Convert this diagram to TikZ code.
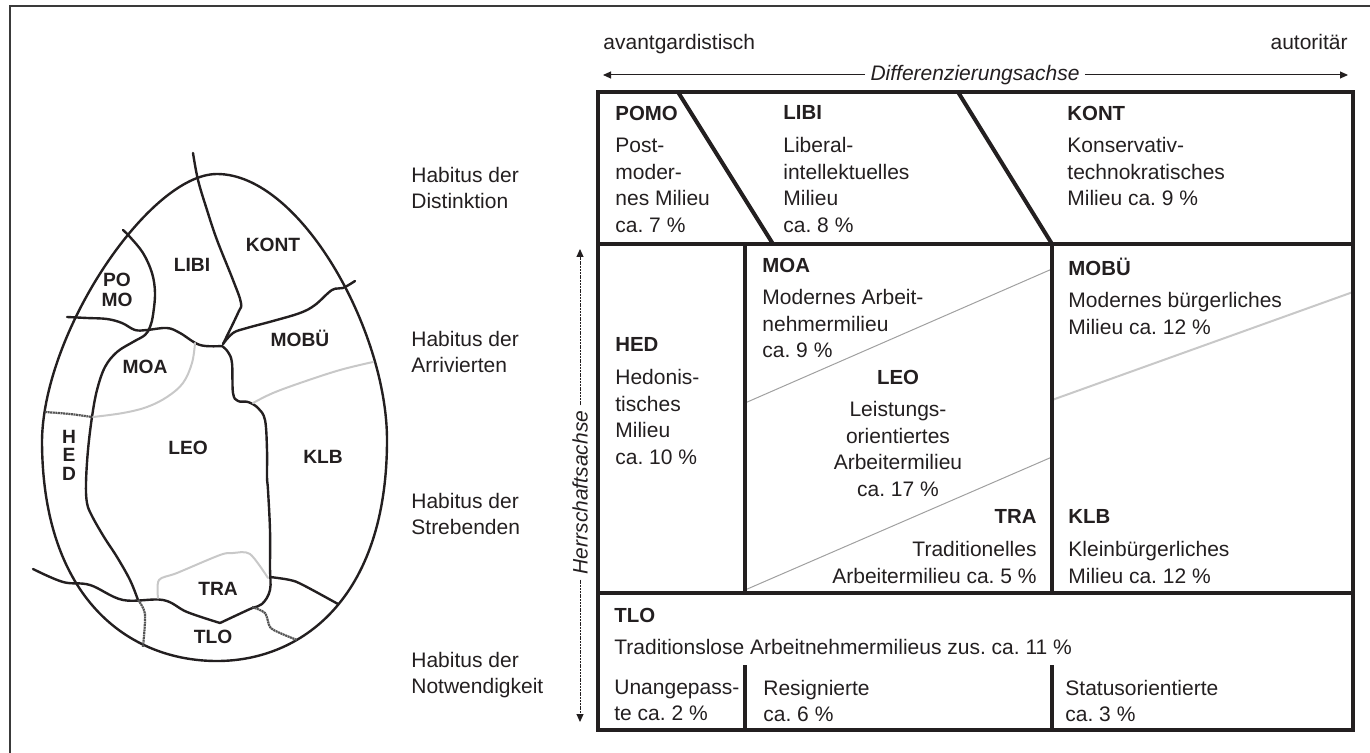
\documentclass[tikz,border=0pt]{standalone}
\usepackage{fontspec}
\setmainfont{Liberation Sans}
\usetikzlibrary{arrows.meta}
\definecolor{ink}{HTML}{231F20}
\definecolor{softgrey}{HTML}{C8C8C8}
\definecolor{hatchgrey}{HTML}{555555}
\definecolor{framegrey}{HTML}{3A3A3A}
\newcommand{\milieuhead}[1]{{\fontsize{10.2}{13.3}\selectfont\bfseries #1}}

\begin{document}
\frenchspacing
\begin{tikzpicture}[
    x=0.5pt, y=-0.5pt,
    every node/.style={text=ink, inner sep=0pt},
    cell/.style={
        font=\fontsize{10.5}{13.3}\selectfont,
        align=left,
        anchor=north west,
    },
    egglabel/.style={
        font=\fontsize{9.6}{10}\selectfont\bfseries,
        align=center,
    },
    axislabel/.style={
        font=\fontsize{10.5}{13.3}\selectfont\itshape,
        inner sep=2.5pt,
    },
    axisline/.style={line width=0.5pt, draw=ink},
    tableline/.style={line width=2pt, draw=ink},
    eggline/.style={line width=1.2pt, draw=ink, line cap=round, line join=round},
    softline/.style={line width=1pt, draw=softgrey, line cap=round},
    hatchline/.style={line width=1.1pt, draw=hatchgrey, dash pattern=on 1pt off 0.3pt},
]
\useasboundingbox (0,0) rectangle (1370,753);

% frame
\draw[line width=0.8pt, draw=framegrey] (10,753) -- (10,6) -- (1370,6);

% egg
\draw[eggline] (217,174) .. controls (300,174) and (387,330) .. (387,440)
    .. controls (387,600) and (300,661) .. (217,661)
    .. controls (130,661) and (42,600) .. (42,440)
    .. controls (44,330) and (150,174) .. (217,174) -- cycle;

\draw[eggline] plot[smooth, tension=0.6] coordinates {(193,153) (198,180) (207,210) (217,240) (233,280) (241,303) (238,313) (223,344)};
\draw[eggline] plot[smooth, tension=0.6] coordinates {(123,230) (130,237) (143,253) (152,273) (155,293) (153,315) (150,327) (145,335) (133,342) (117,352) (105,367) (97,390) (92,417) (88,450) (86,483) (87,503) (92,516) (104,537) (117,557) (130,580) (138,600)};
\draw[eggline] plot[smooth, tension=0.6] coordinates {(67,317) (87,318) (107,319) (122,323) (135,330) (147,330) (167,328) (180,333) (200,345) (222,346)};
\draw[eggline] plot[smooth, tension=0.6] coordinates {(223,344) (233,333) (247,328) (273,321) (300,313) (315,305) (332,290) (343,288) (355,281)};
\draw[eggline] plot[smooth, tension=0.6] coordinates {(222,346) (228,352) (232,363) (233,393) (238,401) (248,402) (258,408) (265,420) (267,450) (267,477) (268,490) (270,530) (270,567) (270,590) (262,604) (250,609) (220,623)};
\draw[eggline] plot[smooth, tension=0.6] coordinates {(220,623) (187,612) (163,600) (123,600) (90,585) (63,582) (33,569)};
\draw[eggline] plot[smooth, tension=0.6] coordinates {(270,577) (290,580) (303,585) (338,604)};

\draw[softline] plot[smooth, tension=0.6] coordinates {(195,343) (192,363) (183,383) (167,397) (147,407) (123,413) (93,417)};
\draw[softline] plot[smooth, tension=0.6] coordinates {(253,403) (273,393) (303,382) (340,370) (373,362)};
\draw[softline] plot[smooth, tension=0.5] coordinates {(158,598) (159,580) (177,573) (220,555) (233,553) (250,554) (268,578)};

\draw[hatchline] plot[smooth] coordinates {(45,412) (70,414) (92,417)};
\draw[hatchline] plot[smooth] coordinates {(138,600) (145,614) (143,647)};
\draw[hatchline] plot[smooth] coordinates {(252,607) (265,613) (270,627) (280,633) (297,640)};

\node[egglabel] (ePOMO) at (117,290) {PO\\MO};
\node[egglabel] (eLIBI) at (192,265) {LIBI};
\node[egglabel] (eKONT) at (273,245) {KONT};
\node[egglabel] (eMOA) at (145,367) {MOA};
\node[egglabel] (eMOBU) at (300,338) {MOBÜ};
\node[egglabel, font=\fontsize{9.6}{9.3}\selectfont\bfseries] (eHED) at (69,455) {H\\E\\D};
\node[egglabel] (eLEO) at (188,448) {LEO};
\node[egglabel] (eKLB) at (323,457) {KLB};
\node[egglabel] (eTRA) at (218,589) {TRA};
\node[egglabel] (eTLO) at (213,637) {TLO};

% habitus
\node[cell] (hDist) at (411,166.5) {Habitus der\\Distinktion};
\node[cell] (hArri) at (411,330.5) {Habitus der\\Arrivierten};
\node[cell] (hStre) at (411,492.5) {Habitus der\\Strebenden};
\node[cell] (hNotw) at (411,651.5) {Habitus der\\Notwendigkeit};

% axes
\node[cell, anchor=base west] (avant) at (603,50) {avantgardistisch};
\node[cell, anchor=base east] (autor) at (1348,50) {autoritär};
\node[axislabel] (diff) at (975,75) {Differenzierungsachse};
\coordinate (diffL) at (603,75);
\coordinate (diffR) at (1348,75);
\draw[axisline, -{Triangle[length=4pt, width=3.5pt]}] (diff) -- (diffL);
\draw[axisline, -{Triangle[length=4pt, width=3.5pt]}] (diff) -- (diffR);

\node[axislabel, rotate=90] (herr) at (580,492.5) {Herrschaftsachse};
\coordinate (herrT) at (580,249);
\coordinate (herrB) at (580,722);
\draw[axisline, dash pattern=on 1pt off 0.4pt, -{Triangle[length=4pt, width=3.5pt]}] (herr) -- (herrT);
\draw[axisline, dash pattern=on 1pt off 0.4pt, -{Triangle[length=4pt, width=3.5pt]}] (herr) -- (herrB);

% table
\draw[line width=0.5pt, draw=softgrey!80!black] (745,403) -- (1052,269);
\draw[line width=0.5pt, draw=softgrey!80!black] (745,590) -- (1052,457);
\draw[line width=1pt, draw=softgrey] (1052,400) -- (1353,292);

\draw[tableline] (598,92) rectangle (1353,730);
\draw[tableline] (598,244) -- (1353,244);
\draw[tableline] (598,593) -- (1353,593);
\draw[tableline] (745,244) -- (745,593);
\draw[tableline] (1052,244) -- (1052,593);
\draw[tableline] (678,92) -- (773,244);
\draw[tableline] (958,92) -- (1052,244);
\draw[tableline] (745,665) -- (745,730);
\draw[tableline] (1052,665) -- (1052,730);

\node[cell] (POMO) at (615,105.5) {\milieuhead{POMO}\\[3pt]Post-\\moder-\\nes Milieu\\ca. 7 \%};
\node[cell] (LIBI) at (783,105.5) {\milieuhead{LIBI}\\[3pt]Liberal-\\intellektuelles\\Milieu\\ca. 8 \%};
\node[cell] (KONT) at (1067,105.5) {\milieuhead{KONT}\\[3pt]Konservativ-\\technokratisches\\Milieu ca. 9 \%};
\node[cell] (MOA) at (762,257.5) {\milieuhead{MOA}\\[3pt]Modernes Arbeit-\\nehmermilieu\\ca. 9 \%};
\node[cell] (MOBU) at (1068,257.5) {\milieuhead{MOBÜ}\\[3pt]Modernes bürgerliches\\Milieu ca. 12 \%};
\node[cell] (HED) at (615,337.5) {\milieuhead{HED}\\[3pt]Hedonis-\\tisches\\Milieu\\ca. 10 \%};
\node[cell, anchor=north, align=center] (LEO) at (898,369.5) {\milieuhead{LEO}\\[3pt]Leistungs-\\orientiertes\\Arbeitermilieu\\ca. 17 \%};
\node[cell, anchor=north east, align=right] (TRA) at (1037,509.5) {\milieuhead{TRA}\\[3pt]Traditionelles\\Arbeitermilieu ca. 5 \%};
\node[cell] (KLB) at (1068,509.5) {\milieuhead{KLB}\\[3pt]Kleinbürgerliches\\Milieu ca. 12 \%};
\node[cell] (TLO) at (614,607.5) {\milieuhead{TLO}\\[3pt]Traditionslose Arbeitnehmermilieus zus. ca. 11 \%};
\node[cell] (UNAN) at (614,679.5) {Unangepass-\\te ca. 2 \%};
\node[cell] (RESI) at (763,679.5) {Resignierte\\ca. 6 \%};
\node[cell] (STAT) at (1065,679.5) {Statusorientierte\\ca. 3 \%};

\end{tikzpicture}
\end{document}
